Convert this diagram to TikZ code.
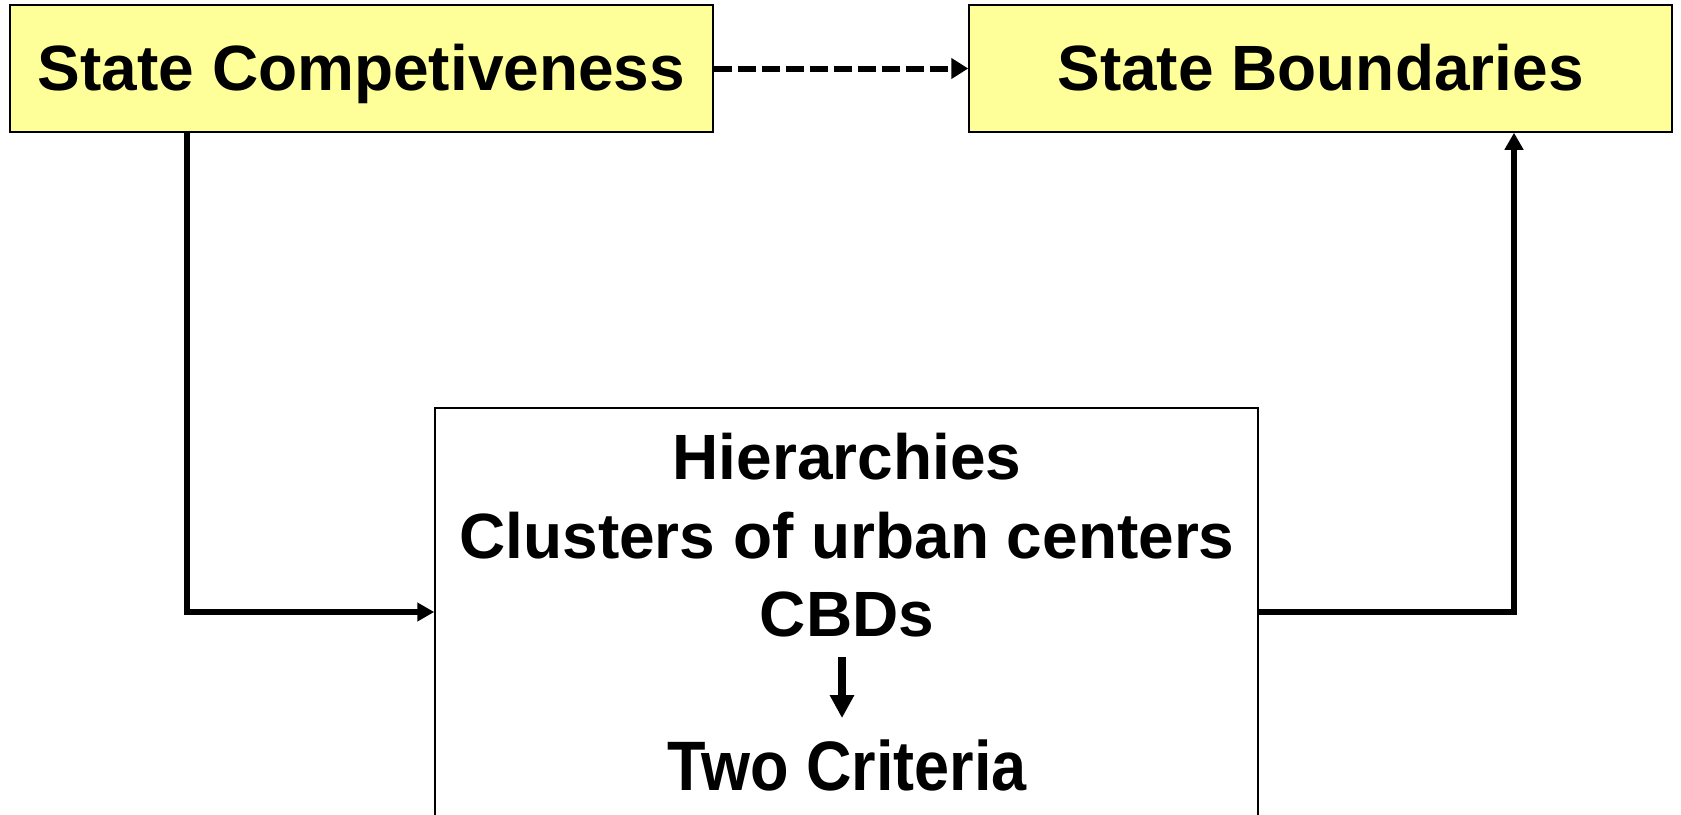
\documentclass[tikz,border=0pt]{standalone}
\usepackage{fontspec}
\setmainfont{Liberation Sans}
\usepackage{graphicx}
\usetikzlibrary{arrows.meta,positioning,calc}
\definecolor{ink}    {HTML}{000000}
\definecolor{lemon}  {HTML}{FFFF99}

\begin{document}
\begin{tikzpicture}[
  x=1pt, y=-1pt,
  top/.style={rectangle, draw=ink, fill=lemon, line width=1.5pt, inner sep=0pt,
              minimum width=703pt, minimum height=127pt, text height=46pt, text depth=3pt,
              font=\fontsize{64}{70}\selectfont\bfseries, text=ink},
  hub/.style={rectangle, draw=ink, fill=white, line width=1.5pt, inner sep=0pt,
              minimum width=823pt, minimum height=440pt},
  txt/.style={font=\fontsize{64}{70}\selectfont\bfseries, text=ink, inner sep=0pt, anchor=base},
  conn/.style={draw=ink, line width=5.5pt, -{Triangle[length=17pt,width=18pt]}},
  dashconn/.style={draw=ink, line width=6pt, dash pattern=on 18pt off 6pt,
                   -{Triangle[length=17pt,width=20pt]}},
  down/.style={draw=ink, line width=8pt, -{Triangle[length=23pt,width=23pt]}}
]
\useasboundingbox (0,0) rectangle (1681,814);
\clip (0,0) rectangle (1681,814);

\node[top] (compet) at (361.5,68.5) {State Competiveness};
\node[top] (bound) at (1320.5,68.5) {State Boundaries};

\node[hub] (mid) at (846.5,628) {};
\node[txt] (hier) at (847,479) {Hierarchies};
\node[txt] (clus) at (847,558) {Clusters of urban centers};
\node[txt] (cbd) at (847,636) {CBDs};
\node[txt, font=\fontsize{70}{76}\selectfont\bfseries] (crit) at (847,790)
   {\scalebox{0.9}[1]{Two Criteria}};

\coordinate (lbend) at (187,612);
\coordinate (rbend) at (1514,612);

\draw[dashconn] (compet.east) -- (bound.west);
\draw[conn] (compet.south -| lbend) -- (lbend) -- (mid.west |- lbend);
\draw[conn] (mid.east |- rbend) -- (rbend) -- (bound.south -| rbend);
\draw[down, shorten <=20pt, shorten >=21pt] ([xshift=-5pt]cbd.south) -- ([xshift=-5pt]crit.north);
\end{tikzpicture}
\end{document}
